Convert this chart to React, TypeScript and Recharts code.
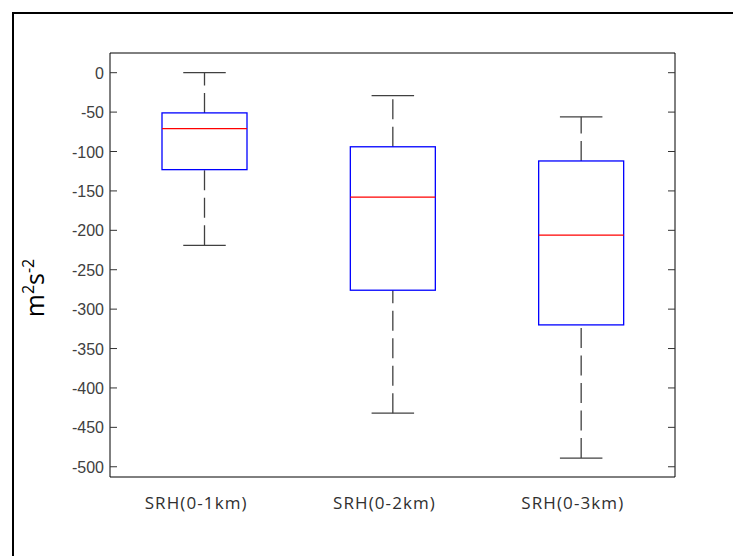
import React from 'react';
import { ComposedChart, Bar, XAxis, YAxis } from 'recharts';

const categories = ['SRH(0-1km)', 'SRH(0-2km)', 'SRH(0-3km)'];
const lowerWhisker = [-219, -432, -489];
const lowerQuartile = [-123, -276, -320];
const medians = [-71, -158, -206];
const upperQuartile = [-51, -94, -112];
const upperWhisker = [0, -29, -56];
const yTicks = [0, -50, -100, -150, -200, -250, -300, -350, -400, -450, -500];
const yDomain: [number, number] = [-513, 25];

const data = categories.map((name, i) => ({
  name,
  box: [lowerQuartile[i], upperQuartile[i]],
  lo: lowerWhisker[i],
  q1: lowerQuartile[i],
  med: medians[i],
  q3: upperQuartile[i],
  hi: upperWhisker[i],
}));

const WHISKER = '#404040';

const BoxShape = (props: any) => {
  const { x, y, width, height, payload } = props;
  const top = Math.min(y, y + height);
  const h = Math.abs(height);
  const ppu = h / (payload.q3 - payload.q1);
  const py = (v: number) => top + (payload.q3 - v) * ppu;
  const cx = x + width / 2;
  const capHalf = width / 4;
  const yHi = py(payload.hi);
  const yLo = py(payload.lo);
  const yMed = py(payload.med);
  return (
    <g>
      <line x1={cx} x2={cx} y1={top} y2={yHi} stroke={WHISKER} strokeWidth={1.3} strokeDasharray="20 7.5" />
      <line x1={cx} x2={cx} y1={yLo} y2={top + h} stroke={WHISKER} strokeWidth={1.3} strokeDasharray="20 7.5" />
      <line x1={cx - capHalf} x2={cx + capHalf} y1={yHi} y2={yHi} stroke={WHISKER} strokeWidth={1.3} />
      <line x1={cx - capHalf} x2={cx + capHalf} y1={yLo} y2={yLo} stroke={WHISKER} strokeWidth={1.3} />
      <rect x={x} y={top} width={width} height={h} fill="none" stroke="#0000ff" strokeWidth={1.3} />
      <line x1={x} x2={x + width} y1={yMed} y2={yMed} stroke="#ff0000" strokeWidth={1.2} />
    </g>
  );
};

const LeftTick = (props: any) => {
  const { x, y, payload } = props;
  return (
    <g>
      <line x1={x} x2={x + 7} y1={y} y2={y} stroke="#333" strokeWidth={1} />
      <text x={x - 6} y={y} dy={6} textAnchor="end" fontFamily="'Liberation Sans', Arial, sans-serif" fontSize={16} fill="#404040">
        {payload.value}
      </text>
    </g>
  );
};

const RightTick = (props: any) => {
  const { x, y } = props;
  return <line x1={x - 7} x2={x} y1={y} y2={y} stroke="#333" strokeWidth={1} />;
};

const BottomTick = (props: any) => {
  const { x, y, payload } = props;
  return (
    <text x={x - 8} y={y} dy={31.5} textAnchor="middle" fontFamily="'Open Sans', sans-serif" fontSize={17} letterSpacing={1.1} fill="#303030">
      {payload.value}
    </text>
  );
};

const YLabel = (props: any) => {
  const vb = props.viewBox || { x: 0, y: 53, width: 110, height: 424 };
  const cx = vb.x + 44;
  const cy = vb.y + vb.height / 2 + 23;
  return (
    <text
      x={cx}
      y={cy}
      transform={`rotate(-90, ${cx}, ${cy})`}
      textAnchor="middle"
      fontFamily="'Open Sans', sans-serif"
      fontSize={25}
      fill="#000"
    >
      <tspan>m</tspan>
      <tspan dy={-10} fontSize={16}>2</tspan>
      <tspan dy={10}>s</tspan>
      <tspan dy={-10} fontSize={16}>-2</tspan>
    </text>
  );
};

export default function App() {
  return (
    <div style={{ position: 'fixed', left: 0, top: 0, width: 733, height: 556, background: '#fff', overflow: 'hidden' }}>
      <div
        style={{
          position: 'absolute',
          left: 12,
          top: 12,
          width: 721,
          height: 544,
          borderTop: '2px solid #000',
          borderLeft: '2px solid #000',
          boxSizing: 'border-box',
        }}
      />
      <div style={{ position: 'absolute', left: 0, top: 0 }}>
        <ComposedChart width={733} height={556} data={data} margin={{ top: 52, right: 48, bottom: 39, left: 0 }} barSize={85}>
          <XAxis
            dataKey="name"
            xAxisId="bottom"
            orientation="bottom"
            height={40}
            interval={0}
            tickSize={0}
            tickMargin={0}
            tickLine={false}
            axisLine={{ stroke: '#000', strokeWidth: 1 }}
            tick={<BottomTick />}
          />
          <XAxis
            dataKey="name"
            xAxisId="top"
            orientation="top"
            height={1}
            tick={false}
            tickLine={false}
            axisLine={{ stroke: '#000', strokeWidth: 1 }}
          />
          <YAxis
            yAxisId="left"
            type="number"
            domain={yDomain}
            ticks={yTicks}
            allowDataOverflow
            width={110}
            interval={0}
            tickSize={0}
            tickMargin={0}
            tickLine={false}
            axisLine={{ stroke: '#000', strokeWidth: 1 }}
            tick={<LeftTick />}
            label={<YLabel />}
          />
          <YAxis
            yAxisId="right"
            orientation="right"
            type="number"
            domain={yDomain}
            ticks={yTicks}
            allowDataOverflow
            width={10}
            interval={0}
            tickSize={0}
            tickMargin={0}
            tickLine={false}
            axisLine={{ stroke: '#000', strokeWidth: 1 }}
            tick={<RightTick />}
          />
          <Bar dataKey="box" xAxisId="bottom" yAxisId="left" shape={<BoxShape />} isAnimationActive={false} />
        </ComposedChart>
      </div>
    </div>
  );
}
